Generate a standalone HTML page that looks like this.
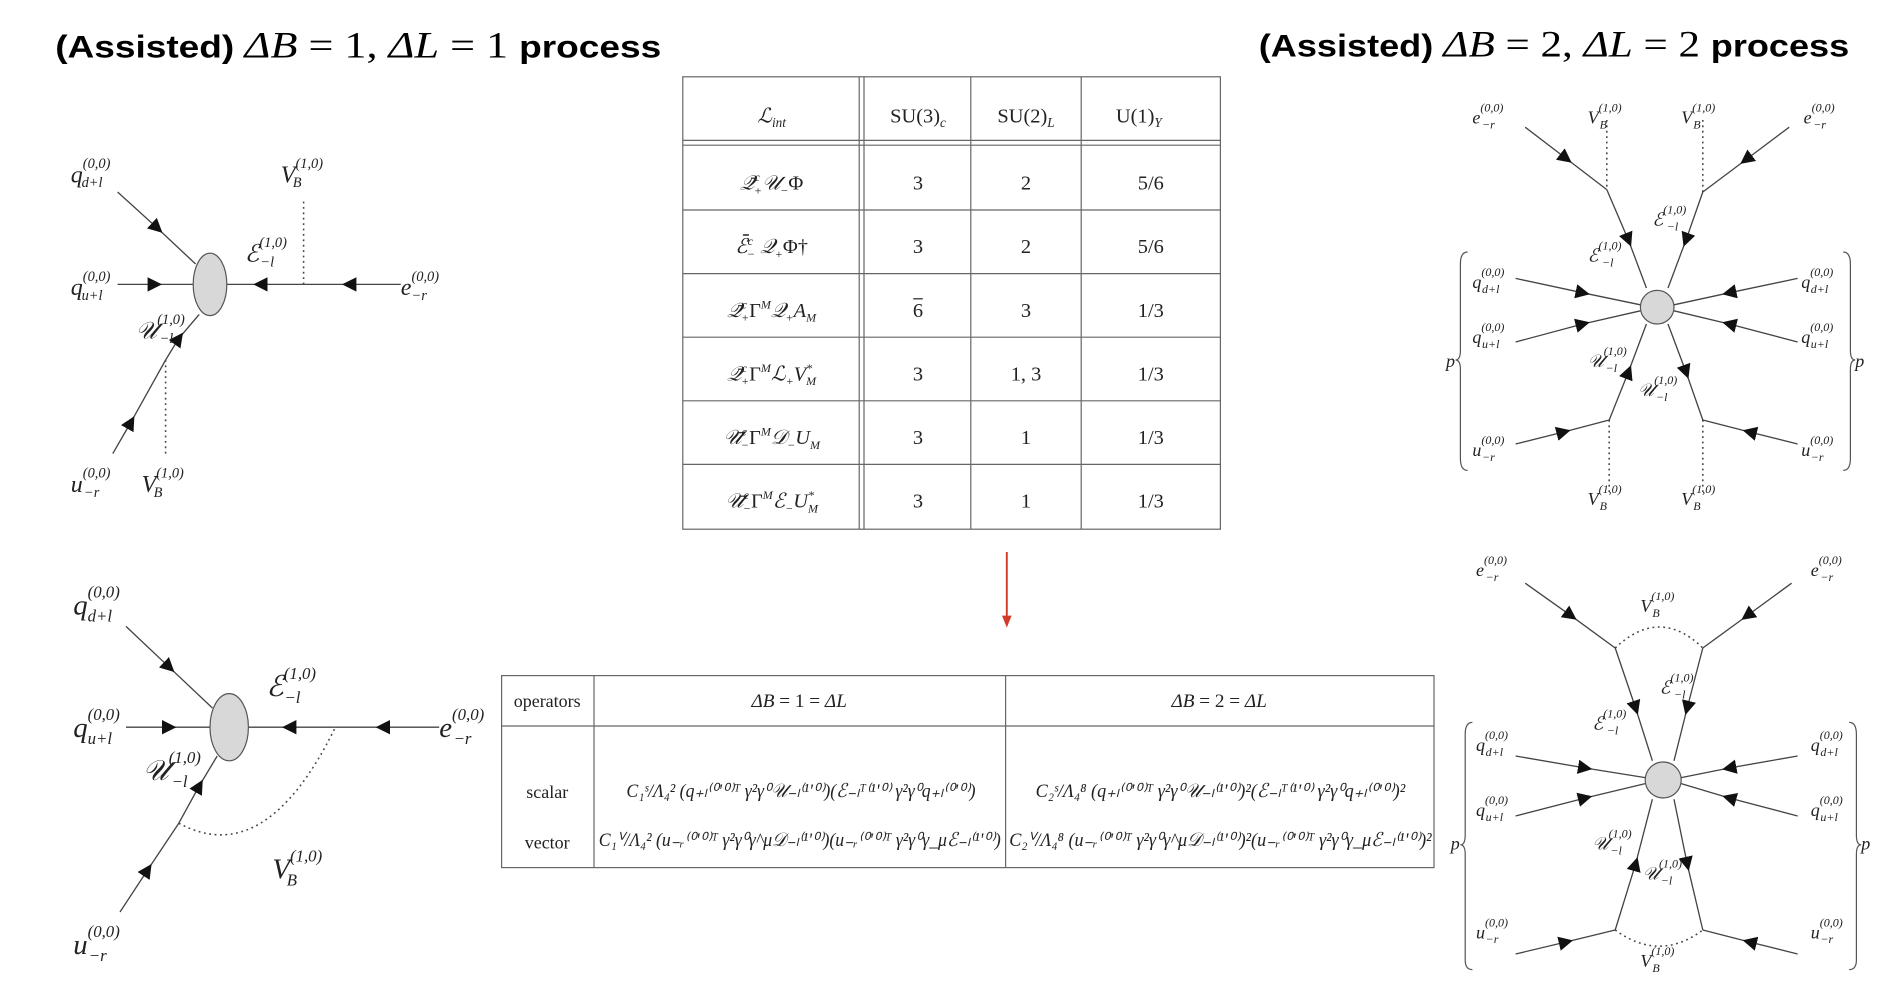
<!DOCTYPE html>
<html><head><meta charset="utf-8"><style>
html,body{margin:0;padding:0;background:#fff;}
svg{display:block;}
text{font-family:"Liberation Serif",serif;fill:#222;}
.m{font-style:italic;}
.t{font-family:"Liberation Sans",sans-serif;font-weight:bold;fill:#000;}
.ln{stroke:#444;stroke-width:1.1;fill:none;}
.dt{stroke:#444;stroke-width:1.3;fill:none;stroke-dasharray:1.5 3;}
.g{stroke:#555;stroke-width:1;fill:none;}
</style></head><body>
<svg width="1884" height="990" viewBox="0 0 1568 825" xmlns="http://www.w3.org/2000/svg">
<defs>
<marker id="a" viewBox="0 0 10 10" refX="5" refY="5" markerWidth="12" markerHeight="12" markerUnits="userSpaceOnUse" orient="auto"><path d="M0,0 L10,5 L0,10 z" fill="#111"/></marker>
</defs>

<!-- Titles -->
<text x="45" y="48" font-size="26" class="t" textLength="505" lengthAdjust="spacingAndGlyphs">(Assisted) <tspan class="m" style="font-family:'Liberation Serif';font-weight:normal;font-size:31">ΔB</tspan><tspan style="font-family:'Liberation Serif';font-weight:normal;font-size:31"> = 1,  </tspan><tspan class="m" style="font-family:'Liberation Serif';font-weight:normal;font-size:31">ΔL</tspan><tspan style="font-family:'Liberation Serif';font-weight:normal;font-size:31"> = 1 </tspan>process</text>
<text x="1048" y="47" font-size="26" class="t" textLength="492" lengthAdjust="spacingAndGlyphs">(Assisted) <tspan class="m" style="font-family:'Liberation Serif';font-weight:normal;font-size:31">ΔB</tspan><tspan style="font-family:'Liberation Serif';font-weight:normal;font-size:31"> = 2,  </tspan><tspan class="m" style="font-family:'Liberation Serif';font-weight:normal;font-size:31">ΔL</tspan><tspan style="font-family:'Liberation Serif';font-weight:normal;font-size:31"> = 2 </tspan>process</text>

<!-- ===== Left top diagram ===== -->
<polyline class="ln" points="97,160 130,190 162,220" marker-mid="url(#a)"/>
<polyline class="ln" points="97,237 128,237 160,237" marker-mid="url(#a)"/>
<polyline class="ln" points="333,237 290,237 252,237" marker-mid="url(#a)"/>
<polyline class="ln" points="252,237 216,237 188,237" marker-mid="url(#a)"/>
<polyline class="ln" points="93,378 108,352 137,300" marker-mid="url(#a)"/>
<polyline class="ln" points="137,300 148,282 165,262" marker-mid="url(#a)"/>
<line class="dt" x1="252" y1="168" x2="252" y2="237"/>
<line class="dt" x1="137" y1="300" x2="137" y2="378"/>
<ellipse cx="174" cy="237" rx="14" ry="26" fill="#d8d8d8" stroke="#555"/>
<text class="m" x="58" y="152" font-size="20">q<tspan font-size="12" dy="-12">(0,0)</tspan><tspan font-size="12" x="67" dy="16">d+l</tspan></text>
<text class="m" x="58" y="246" font-size="20">q<tspan font-size="12" dy="-12">(0,0)</tspan><tspan font-size="12" x="67" dy="16">u+l</tspan></text>
<text class="m" x="333" y="246" font-size="20">e<tspan font-size="12" dy="-12">(0,0)</tspan><tspan font-size="12" x="342" dy="16">−r</tspan></text>
<text class="m" x="233" y="152" font-size="20">V<tspan font-size="12" dy="-12">(1,0)</tspan><tspan font-size="12" x="243" dy="16">B</tspan></text>
<text class="m" x="203" y="218" font-size="20">ℰ<tspan font-size="12" dy="-12">(1,0)</tspan><tspan font-size="12" x="216" dy="16">−l</tspan></text>
<text class="m" x="112" y="282" font-size="20">𝒰<tspan font-size="12" dy="-12">(1,0)</tspan><tspan font-size="12" x="132" dy="16">−l</tspan></text>
<text class="m" x="58" y="410" font-size="20">u<tspan font-size="12" dy="-12">(0,0)</tspan><tspan font-size="12" x="69" dy="16">−r</tspan></text>
<text class="m" x="117" y="410" font-size="20">V<tspan font-size="12" dy="-12">(1,0)</tspan><tspan font-size="12" x="127" dy="16">B</tspan></text>

<!-- ===== Left bottom diagram ===== -->
<polyline class="ln" points="104,522 140,556 176,590" marker-mid="url(#a)"/>
<polyline class="ln" points="104,606 140,606 174,606" marker-mid="url(#a)"/>
<polyline class="ln" points="365,606 318,606 278,606" marker-mid="url(#a)"/>
<polyline class="ln" points="278,606 240,606 206,606" marker-mid="url(#a)"/>
<polyline class="ln" points="99,760 122,725 148,686" marker-mid="url(#a)"/>
<polyline class="ln" points="148,686 165,655 180,630" marker-mid="url(#a)"/>
<path class="dt" d="M148,686 Q220,725 278,607"/>
<ellipse cx="190" cy="606" rx="16" ry="28" fill="#d8d8d8" stroke="#555"/>
<text class="m" x="60" y="512" font-size="24">q<tspan font-size="14" dy="-14">(0,0)</tspan><tspan font-size="14" x="72" dy="20">d+l</tspan></text>
<text class="m" x="60" y="614" font-size="24">q<tspan font-size="14" dy="-14">(0,0)</tspan><tspan font-size="14" x="72" dy="20">u+l</tspan></text>
<text class="m" x="365" y="614" font-size="24">e<tspan font-size="14" dy="-14">(0,0)</tspan><tspan font-size="14" x="377" dy="20">−r</tspan></text>
<text class="m" x="221" y="580" font-size="24">ℰ<tspan font-size="14" dy="-14">(1,0)</tspan><tspan font-size="14" x="236" dy="20">−l</tspan></text>
<text class="m" x="118" y="650" font-size="24">𝒰<tspan font-size="14" dy="-14">(1,0)</tspan><tspan font-size="14" x="142" dy="20">−l</tspan></text>
<text class="m" x="226" y="732" font-size="24">V<tspan font-size="14" dy="-14">(1,0)</tspan><tspan font-size="14" x="238" dy="20">B</tspan></text>
<text class="m" x="60" y="795" font-size="24">u<tspan font-size="14" dy="-14">(0,0)</tspan><tspan font-size="14" x="73" dy="20">−r</tspan></text>

<!-- ===== Table 1 ===== -->
<g stroke="#666" fill="none" stroke-width="1">
<rect x="568" y="64" width="448" height="377"/>
<line x1="568" y1="117" x2="1016" y2="117"/>
<line x1="568" y1="121" x2="1016" y2="121"/>
<line x1="568" y1="175" x2="1016" y2="175"/>
<line x1="568" y1="228" x2="1016" y2="228"/>
<line x1="568" y1="281" x2="1016" y2="281"/>
<line x1="568" y1="334" x2="1016" y2="334"/>
<line x1="568" y1="387" x2="1016" y2="387"/>
<line x1="715" y1="64" x2="715" y2="441"/>
<line x1="719" y1="64" x2="719" y2="441"/>
<line x1="808" y1="64" x2="808" y2="441"/>
<line x1="900" y1="64" x2="900" y2="441"/>
</g>
<g font-size="17" text-anchor="middle">
<text x="642" y="102" class="m">ℒ<tspan font-size="11" dy="4">int</tspan></text>
<text x="764" y="102">SU(3)<tspan font-size="11" dy="4" class="m">c</tspan></text>
<text x="854" y="102">SU(2)<tspan font-size="11" dy="4" class="m">L</tspan></text>
<text x="948" y="102">U(1)<tspan font-size="11" dy="4" class="m">Y</tspan></text>
<text x="642" y="158" class="m">𝒬̄<tspan font-size="10" dy="-7">c</tspan><tspan font-size="10" dx="-5" dy="11">+</tspan><tspan dy="-4">𝒰</tspan><tspan font-size="10" dy="4">−</tspan><tspan dy="-4" font-style="normal">Φ</tspan></text>
<text x="642" y="211" class="m">ℰ̄<tspan font-size="10" dy="-7">c</tspan><tspan font-size="10" dx="-5" dy="11">−</tspan><tspan dy="-4"> 𝒬</tspan><tspan font-size="10" dy="4">+</tspan><tspan dy="-4" font-style="normal">Φ†</tspan></text>
<text x="642" y="264" class="m">𝒬̄<tspan font-size="10" dy="-7">c</tspan><tspan font-size="10" dx="-5" dy="11">+</tspan><tspan dy="-4" font-style="normal">Γ</tspan><tspan font-size="10" dy="-7">M</tspan><tspan dy="7">𝒬</tspan><tspan font-size="10" dy="4">+</tspan><tspan dy="-4">A</tspan><tspan font-size="10" dy="4">M</tspan></text>
<text x="642" y="317" class="m">𝒬̄<tspan font-size="10" dy="-7">c</tspan><tspan font-size="10" dx="-5" dy="11">+</tspan><tspan dy="-4" font-style="normal">Γ</tspan><tspan font-size="10" dy="-7">M</tspan><tspan dy="7">ℒ</tspan><tspan font-size="10" dy="4">+</tspan><tspan dy="-4">V</tspan><tspan font-size="10" dy="-7">*</tspan><tspan font-size="10" dx="-5" dy="11">M</tspan></text>
<text x="642" y="370" class="m">𝒰̄<tspan font-size="10" dy="-7">c</tspan><tspan font-size="10" dx="-5" dy="11">−</tspan><tspan dy="-4" font-style="normal">Γ</tspan><tspan font-size="10" dy="-7">M</tspan><tspan dy="7">𝒟</tspan><tspan font-size="10" dy="4">−</tspan><tspan dy="-4">U</tspan><tspan font-size="10" dy="4">M</tspan></text>
<text x="642" y="423" class="m">𝒰̄<tspan font-size="10" dy="-7">c</tspan><tspan font-size="10" dx="-5" dy="11">−</tspan><tspan dy="-4" font-style="normal">Γ</tspan><tspan font-size="10" dy="-7">M</tspan><tspan dy="7">ℰ</tspan><tspan font-size="10" dy="4">−</tspan><tspan dy="-4">U</tspan><tspan font-size="10" dy="-7">*</tspan><tspan font-size="10" dx="-5" dy="11">M</tspan></text>
<text x="764" y="158">3</text><text x="854" y="158">2</text><text x="958" y="158">5/6</text>
<text x="764" y="211">3</text><text x="854" y="211">2</text><text x="958" y="211">5/6</text>
<text x="764" y="264">6</text><text x="854" y="264">3</text><text x="958" y="264">1/3</text>
<text x="764" y="317">3</text><text x="854" y="317">1, 3</text><text x="958" y="317">1/3</text>
<text x="764" y="370">3</text><text x="854" y="370">1</text><text x="958" y="370">1/3</text>
<text x="764" y="423">3</text><text x="854" y="423">1</text><text x="958" y="423">1/3</text>
</g>
<line x1="760" y1="249" x2="768" y2="249" stroke="#222" stroke-width="1"/>

<!-- red arrow -->
<line x1="838" y1="460" x2="838" y2="516" stroke="#d23b2a" stroke-width="1.6"/>
<path d="M834,513 L838,523 L842,513 z" fill="#d23b2a"/>

<!-- ===== Table 2 ===== -->
<g stroke="#666" fill="none" stroke-width="1">
<rect x="417" y="563" width="777" height="160"/>
<line x1="417" y1="605" x2="1194" y2="605"/>
<line x1="494" y1="563" x2="494" y2="723"/>
<line x1="837" y1="563" x2="837" y2="723"/>
</g>
<g font-size="16">
<text x="455" y="589" text-anchor="middle" font-size="15">operators</text>
<text x="665" y="589" text-anchor="middle"><tspan class="m">ΔB</tspan> = 1 = <tspan class="m">ΔL</tspan></text>
<text x="1015" y="589" text-anchor="middle"><tspan class="m">ΔB</tspan> = 2 = <tspan class="m">ΔL</tspan></text>
<text x="455" y="665" text-anchor="middle" font-size="15">scalar</text>
<text x="455" y="707" text-anchor="middle" font-size="15">vector</text>
<text x="521" y="664" font-size="16" class="m" textLength="291" lengthAdjust="spacingAndGlyphs">C₁ˢ/Λ₄² (q₊ₗ⁽⁰'⁰⁾ᵀ γ²γ⁰𝒰₋ₗ⁽¹'⁰⁾)(ℰ₋ₗᵀ⁽¹'⁰⁾ γ²γ⁰q₊ₗ⁽⁰'⁰⁾)</text>
<text x="498" y="705" font-size="16" class="m" textLength="335" lengthAdjust="spacingAndGlyphs">C₁ⱽ/Λ₄² (u₋ᵣ⁽⁰'⁰⁾ᵀ γ²γ⁰γ^μ𝒟₋ₗ⁽¹'⁰⁾)(u₋ᵣ⁽⁰'⁰⁾ᵀ γ²γ⁰γ_μℰ₋ₗ⁽¹'⁰⁾)</text>
<text x="862" y="664" font-size="16" class="m" textLength="308" lengthAdjust="spacingAndGlyphs">C₂ˢ/Λ₄⁸ (q₊ₗ⁽⁰'⁰⁾ᵀ γ²γ⁰𝒰₋ₗ⁽¹'⁰⁾)²(ℰ₋ₗᵀ⁽¹'⁰⁾ γ²γ⁰q₊ₗ⁽⁰'⁰⁾)²</text>
<text x="840" y="705" font-size="16" class="m" textLength="352" lengthAdjust="spacingAndGlyphs">C₂ⱽ/Λ₄⁸ (u₋ᵣ⁽⁰'⁰⁾ᵀ γ²γ⁰γ^μ𝒟₋ₗ⁽¹'⁰⁾)²(u₋ᵣ⁽⁰'⁰⁾ᵀ γ²γ⁰γ_μℰ₋ₗ⁽¹'⁰⁾)²</text>
</g>

<!-- ===== Right top diagram ===== -->
<polyline class="ln" points="1270,106 1304,132 1338,158" marker-mid="url(#a)"/>
<polyline class="ln" points="1338,158 1356,200 1371,240" marker-mid="url(#a)"/>
<polyline class="ln" points="1490,106 1454,133 1418,160" marker-mid="url(#a)"/>
<polyline class="ln" points="1418,160 1404,200 1389,240" marker-mid="url(#a)"/>
<line class="dt" x1="1338" y1="100" x2="1338" y2="158"/>
<line class="dt" x1="1418" y1="100" x2="1418" y2="160"/>
<polyline class="ln" points="1262,232 1318,244 1366,254" marker-mid="url(#a)"/>
<polyline class="ln" points="1262,285 1318,270 1366,259" marker-mid="url(#a)"/>
<polyline class="ln" points="1497,232 1440,244 1394,254" marker-mid="url(#a)"/>
<polyline class="ln" points="1497,285 1440,270 1394,259" marker-mid="url(#a)"/>
<polyline class="ln" points="1262,370 1302,360 1340,350" marker-mid="url(#a)"/>
<polyline class="ln" points="1340,350 1356,310 1371,270" marker-mid="url(#a)"/>
<polyline class="ln" points="1497,370 1457,360 1418,350" marker-mid="url(#a)"/>
<polyline class="ln" points="1389,270 1404,310 1418,350" marker-mid="url(#a)"/>
<line class="dt" x1="1340" y1="350" x2="1340" y2="410"/>
<line class="dt" x1="1418" y1="350" x2="1418" y2="410"/>
<circle cx="1380" cy="256" r="14" fill="#d8d8d8" stroke="#555"/>
<path class="g" d="M1222,210 Q1216,210 1216,220 L1216,292 Q1216,300 1212,300 Q1216,300 1216,308 L1216,382 Q1216,392 1222,392"/>
<path class="g" d="M1535,210 Q1541,210 1541,220 L1541,292 Q1541,300 1545,300 Q1541,300 1541,308 L1541,382 Q1541,392 1535,392"/>
<g font-size="15" class="m">
<text x="1226" y="103">e<tspan font-size="10" dy="-10">(0,0)</tspan><tspan font-size="10" x="1234" dy="14">−r</tspan></text>
<text x="1502" y="103">e<tspan font-size="10" dy="-10">(0,0)</tspan><tspan font-size="10" x="1510" dy="14">−r</tspan></text>
<text x="1322" y="103">V<tspan font-size="10" dy="-10">(1,0)</tspan><tspan font-size="10" x="1332" dy="14">B</tspan></text>
<text x="1400" y="103">V<tspan font-size="10" dy="-10">(1,0)</tspan><tspan font-size="10" x="1410" dy="14">B</tspan></text>
<text x="1376" y="188">ℰ<tspan font-size="10" dy="-10">(1,0)</tspan><tspan font-size="10" x="1388" dy="14">−l</tspan></text>
<text x="1322" y="218">ℰ<tspan font-size="10" dy="-10">(1,0)</tspan><tspan font-size="10" x="1334" dy="14">−l</tspan></text>
<text x="1226" y="240">q<tspan font-size="10" dy="-10">(0,0)</tspan><tspan font-size="10" x="1234" dy="14">d+l</tspan></text>
<text x="1226" y="286">q<tspan font-size="10" dy="-10">(0,0)</tspan><tspan font-size="10" x="1234" dy="14">u+l</tspan></text>
<text x="1500" y="240">q<tspan font-size="10" dy="-10">(0,0)</tspan><tspan font-size="10" x="1508" dy="14">d+l</tspan></text>
<text x="1500" y="286">q<tspan font-size="10" dy="-10">(0,0)</tspan><tspan font-size="10" x="1508" dy="14">u+l</tspan></text>
<text x="1204" y="306">p</text><text x="1545" y="306">p</text>
<text x="1322" y="306">𝒰<tspan font-size="10" dy="-10">(1,0)</tspan><tspan font-size="10" x="1337" dy="14">−l</tspan></text>
<text x="1364" y="330">𝒰<tspan font-size="10" dy="-10">(1,0)</tspan><tspan font-size="10" x="1379" dy="14">−l</tspan></text>
<text x="1226" y="380">u<tspan font-size="10" dy="-10">(0,0)</tspan><tspan font-size="10" x="1234" dy="14">−r</tspan></text>
<text x="1500" y="380">u<tspan font-size="10" dy="-10">(0,0)</tspan><tspan font-size="10" x="1508" dy="14">−r</tspan></text>
<text x="1322" y="421">V<tspan font-size="10" dy="-10">(1,0)</tspan><tspan font-size="10" x="1332" dy="14">B</tspan></text>
<text x="1400" y="421">V<tspan font-size="10" dy="-10">(1,0)</tspan><tspan font-size="10" x="1410" dy="14">B</tspan></text>
</g>

<!-- ===== Right bottom diagram ===== -->
<polyline class="ln" points="1270,486 1308,513 1345,540" marker-mid="url(#a)"/>
<polyline class="ln" points="1345,540 1362,590 1376,634" marker-mid="url(#a)"/>
<polyline class="ln" points="1492,486 1455,513 1418,540" marker-mid="url(#a)"/>
<polyline class="ln" points="1418,540 1405,590 1394,634" marker-mid="url(#a)"/>
<path class="dt" d="M1345,540 Q1382,505 1418,540"/>
<polyline class="ln" points="1262,630 1320,640 1370,648" marker-mid="url(#a)"/>
<polyline class="ln" points="1262,680 1320,665 1370,653" marker-mid="url(#a)"/>
<polyline class="ln" points="1497,630 1440,640 1400,648" marker-mid="url(#a)"/>
<polyline class="ln" points="1497,680 1440,665 1400,653" marker-mid="url(#a)"/>
<polyline class="ln" points="1262,795 1304,785 1345,775" marker-mid="url(#a)"/>
<polyline class="ln" points="1345,775 1362,720 1376,666" marker-mid="url(#a)"/>
<polyline class="ln" points="1497,795 1457,785 1418,775" marker-mid="url(#a)"/>
<polyline class="ln" points="1394,666 1405,720 1418,775" marker-mid="url(#a)"/>
<path class="dt" d="M1345,775 Q1382,802 1418,775"/>
<circle cx="1385" cy="650" r="15" fill="#d8d8d8" stroke="#555"/>
<path class="g" d="M1226,602 Q1220,602 1220,612 L1220,696 Q1220,704 1216,704 Q1220,704 1220,712 L1220,800 Q1220,808 1226,808"/>
<path class="g" d="M1540,602 Q1546,602 1546,612 L1546,696 Q1546,704 1550,704 Q1546,704 1546,712 L1546,800 Q1546,808 1540,808"/>
<g font-size="15" class="m">
<text x="1229" y="480">e<tspan font-size="10" dy="-10">(0,0)</tspan><tspan font-size="10" x="1237" dy="14">−r</tspan></text>
<text x="1508" y="480">e<tspan font-size="10" dy="-10">(0,0)</tspan><tspan font-size="10" x="1516" dy="14">−r</tspan></text>
<text x="1366" y="510">V<tspan font-size="10" dy="-10">(1,0)</tspan><tspan font-size="10" x="1376" dy="14">B</tspan></text>
<text x="1382" y="578">ℰ<tspan font-size="10" dy="-10">(1,0)</tspan><tspan font-size="10" x="1394" dy="14">−l</tspan></text>
<text x="1326" y="608">ℰ<tspan font-size="10" dy="-10">(1,0)</tspan><tspan font-size="10" x="1338" dy="14">−l</tspan></text>
<text x="1229" y="626">q<tspan font-size="10" dy="-10">(0,0)</tspan><tspan font-size="10" x="1237" dy="14">d+l</tspan></text>
<text x="1229" y="680">q<tspan font-size="10" dy="-10">(0,0)</tspan><tspan font-size="10" x="1237" dy="14">u+l</tspan></text>
<text x="1508" y="626">q<tspan font-size="10" dy="-10">(0,0)</tspan><tspan font-size="10" x="1516" dy="14">d+l</tspan></text>
<text x="1508" y="680">q<tspan font-size="10" dy="-10">(0,0)</tspan><tspan font-size="10" x="1516" dy="14">u+l</tspan></text>
<text x="1208" y="708">p</text><text x="1550" y="708">p</text>
<text x="1326" y="708">𝒰<tspan font-size="10" dy="-10">(1,0)</tspan><tspan font-size="10" x="1341" dy="14">−l</tspan></text>
<text x="1368" y="733">𝒰<tspan font-size="10" dy="-10">(1,0)</tspan><tspan font-size="10" x="1383" dy="14">−l</tspan></text>
<text x="1229" y="782">u<tspan font-size="10" dy="-10">(0,0)</tspan><tspan font-size="10" x="1237" dy="14">−r</tspan></text>
<text x="1508" y="782">u<tspan font-size="10" dy="-10">(0,0)</tspan><tspan font-size="10" x="1516" dy="14">−r</tspan></text>
<text x="1366" y="806">V<tspan font-size="10" dy="-10">(1,0)</tspan><tspan font-size="10" x="1376" dy="14">B</tspan></text>
</g>
</svg>
</body></html>
